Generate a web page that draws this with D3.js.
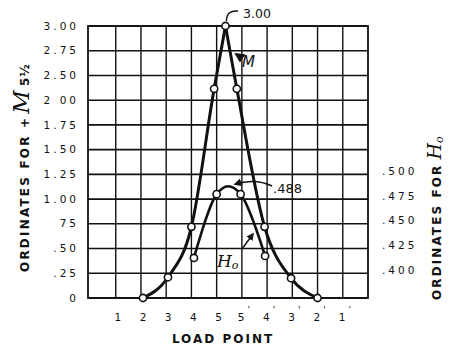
<!DOCTYPE html>
<html><head><meta charset="utf-8">
<script src="https://cdn.jsdelivr.net/npm/d3@7"></script>
<style>body{margin:0;background:#fff}svg{display:block}</style>
</head><body>
<svg id="c" width="449" height="348"></svg>
<script>
// ---- data ----
const loadPointPos = [1, 2, 3, 4, 5, 6, 7, 8, 9, 10];
const loadPointLabels = ["1", "2", "3", "4", "5", "5'", "4'", "3'", "2'", "1'"];
const leftTickValues = [0, 0.25, 0.5, 0.75, 1.0, 1.25, 1.5, 1.75, 2.0, 2.5, 2.75, 3.0];
const leftTickLabels = ["0", ".25", ".50", "75", "1.00", "1.25", "1.50", "1.75", "2 00", "2.50", "2.75", "3.00"];
const rightTickValues = [0.400, 0.425, 0.450, 0.475, 0.500];
const rightTickLabels = [".400", ".425", ".450", ".475", ".500"];
const mX = [2.08, 3.07, 4.0, 4.9, 5.35, 5.8, 6.9, 7.95, 9.0];
const mY = [0, 0.21, 0.72, 2.23, 3.00, 2.23, 0.72, 0.20, 0];
const h0X = [4.1, 5.0, 5.45, 5.95, 6.92];
const h0Y = [0.4155, 0.480, 0.488, 0.480, 0.4175];
const h0Marked = [true, true, false, true, true];

// ---- layout ----
const svg = d3.select("#c");
const L = 88, R = 368, T = 26, B = 298;
const ink = "#111";
const x = d3.scaleLinear().domain([-0.1, 11]).range([L, R]);
const yL = d3.scaleLinear().domain(leftTickValues)
  .range(leftTickValues.map((d, i) => B - i * (B - T) / (leftTickValues.length - 1)));
const yR = d3.scaleLinear().domain([0.375, 0.65]).range([B, T]);

// grid
const g = svg.append("g").attr("stroke", ink).attr("fill", "none");
g.selectAll("line.h").data(leftTickValues).join("line")
  .attr("x1", L).attr("x2", R).attr("y1", d => yL(d)).attr("y2", d => yL(d))
  .attr("stroke-width", 1.6);
g.selectAll("line.v").data(loadPointPos).join("line")
  .attr("x1", d => x(d)).attr("x2", d => x(d)).attr("y1", T).attr("y2", B)
  .attr("stroke-width", 1.4);
g.append("rect").attr("x", L).attr("y", T).attr("width", R - L).attr("height", B - T)
  .attr("stroke-width", 1.8);

const fnt = "'DejaVu Sans', sans-serif";

// left ticks
svg.append("g").selectAll("text").data(leftTickValues).join("text")
  .attr("x", 79).attr("y", d => yL(d)).attr("dy", "0.35em")
  .attr("text-anchor", "end").attr("font-family", fnt).attr("font-size", 10.5)
  .attr("letter-spacing", 3).attr("fill", ink)
  .text((d, i) => leftTickLabels[i]);

// right ticks
svg.append("g").selectAll("text").data(rightTickValues).join("text")
  .attr("x", 382).attr("y", d => yR(d) - 3).attr("dy", "0.35em")
  .attr("text-anchor", "start").attr("font-family", fnt).attr("font-size", 10.5)
  .attr("letter-spacing", 3).attr("fill", ink)
  .text((d, i) => rightTickLabels[i]);

// bottom ticks
const bt = svg.append("g").selectAll("text").data(loadPointPos).join("text")
  .attr("x", d => x(d) + 2).attr("y", 321)
  .attr("text-anchor", "middle").attr("font-family", fnt).attr("font-size", 10.5)
  .attr("fill", ink);
bt.append("tspan").text((d, i) => loadPointLabels[i].replace("'", ""));
bt.append("tspan").attr("dx", 3).attr("dy", -8).attr("font-size", 9)
  .text((d, i) => loadPointLabels[i].includes("'") ? "'" : "");

// axis titles
svg.append("text").attr("x", 223).attr("y", 343).attr("text-anchor", "middle")
  .attr("font-family", fnt).attr("font-weight", "bold").attr("font-size", 12)
  .attr("letter-spacing", 2).attr("fill", ink).text("LOAD POINT");

const lt = svg.append("text").attr("transform", "translate(29,272) rotate(-90)")
  .attr("font-family", fnt).attr("font-weight", "bold").attr("fill", ink);
lt.append("tspan").attr("font-size", 12).attr("letter-spacing", 2.2).text("ORDINATES FOR +");
lt.append("tspan").attr("dx", 2).attr("font-family", "'DejaVu Serif', serif")
  .attr("font-style", "italic").attr("font-size", 23).attr("font-weight", "normal").text("M");
lt.append("tspan").attr("dx", 4).attr("font-size", 12).text("5");
lt.append("tspan").attr("dx", 1).attr("font-size", 12).text("½");

const rt = svg.append("text").attr("transform", "translate(441,300) rotate(-90)")
  .attr("font-family", fnt).attr("font-weight", "bold").attr("fill", ink);
rt.append("tspan").attr("font-size", 12).attr("letter-spacing", 2.1).text("ORDINATES FOR");
rt.append("tspan").attr("dx", 4).attr("font-family", "'DejaVu Serif', serif")
  .attr("font-style", "italic").attr("font-weight", "normal").attr("font-size", 19).text("H");
rt.append("tspan").attr("dx", 0).attr("dy", 2).attr("font-family", "'DejaVu Serif', serif")
  .attr("font-style", "italic").attr("font-weight", "normal").attr("font-size", 11).text("o");

// curves
const mPts = mX.map((d, i) => [x(d), yL(mY[i])]);
const peakIdx = mY.indexOf(d3.max(mY));
const mono = d3.line().curve(d3.curveMonotoneX);
svg.append("path").attr("d", mono(mPts.slice(0, peakIdx + 1)))
  .attr("fill", "none").attr("stroke", ink).attr("stroke-width", 3);
svg.append("path").attr("d", mono(mPts.slice(peakIdx)))
  .attr("fill", "none").attr("stroke", ink).attr("stroke-width", 3);

const hPts = h0X.map((d, i) => [x(d), yR(h0Y[i])]);
svg.append("path").attr("d", d3.line().curve(d3.curveCatmullRom)(hPts))
  .attr("fill", "none").attr("stroke", ink).attr("stroke-width", 2.6);

// circles
svg.append("g").selectAll("circle").data(mPts).join("circle")
  .attr("cx", d => d[0]).attr("cy", d => d[1]).attr("r", 3.6)
  .attr("fill", "#fff").attr("stroke", ink).attr("stroke-width", 1.6);
svg.append("g").selectAll("circle").data(hPts.filter((d, i) => h0Marked[i])).join("circle")
  .attr("cx", d => d[0]).attr("cy", d => d[1]).attr("r", 3.6)
  .attr("fill", "#fff").attr("stroke", ink).attr("stroke-width", 1.6);

// annotations
const defs = svg.append("defs");
defs.append("marker").attr("id", "ah").attr("viewBox", "0 0 10 10").attr("refX", 8).attr("refY", 5)
  .attr("markerWidth", 5).attr("markerHeight", 5).attr("orient", "auto")
  .append("path").attr("d", "M0,0 L10,5 L0,10 z").attr("fill", ink);

const pk = mPts[peakIdx];
svg.append("text").attr("x", 243).attr("y", 18).attr("font-family", fnt).attr("font-size", 12.5)
  .attr("fill", ink).text(d3.format(".2f")(mY[peakIdx]));
svg.append("path").attr("d", `M238,11 Q${pk[0] + 1},10 ${pk[0] + 1},${pk[1] - 5}`)
  .attr("fill", "none").attr("stroke", ink).attr("stroke-width", 1.5);

svg.append("text").attr("x", 242).attr("y", 67).attr("font-family", fnt).attr("font-style", "italic")
  .attr("font-size", 15).attr("fill", ink).text("M");
svg.append("path").attr("d", "M242,58 L236,54").attr("stroke", ink).attr("stroke-width", 2)
  .attr("marker-end", "url(#ah)");

const hp = hPts[2];
svg.append("text").attr("x", 273).attr("y", 193).attr("font-family", fnt).attr("font-size", 13)
  .attr("fill", ink).text(".488");
svg.append("path").attr("d", `M272,186 Q255,178 ${hp[0] + 7},${hp[1] - 2}`)
  .attr("fill", "none").attr("stroke", ink).attr("stroke-width", 1.6).attr("marker-end", "url(#ah)");

const ht = svg.append("text").attr("x", 217).attr("y", 267).attr("font-family", "'DejaVu Serif', serif")
  .attr("font-style", "italic").attr("fill", ink);
ht.append("tspan").attr("font-size", 17).text("H");
ht.append("tspan").attr("font-size", 11).attr("dy", 2).text("o");
svg.append("path").attr("d", "M242,249 L253,234").attr("stroke", ink).attr("stroke-width", 1.5)
  .attr("marker-end", "url(#ah)");
</script>
</body></html>
